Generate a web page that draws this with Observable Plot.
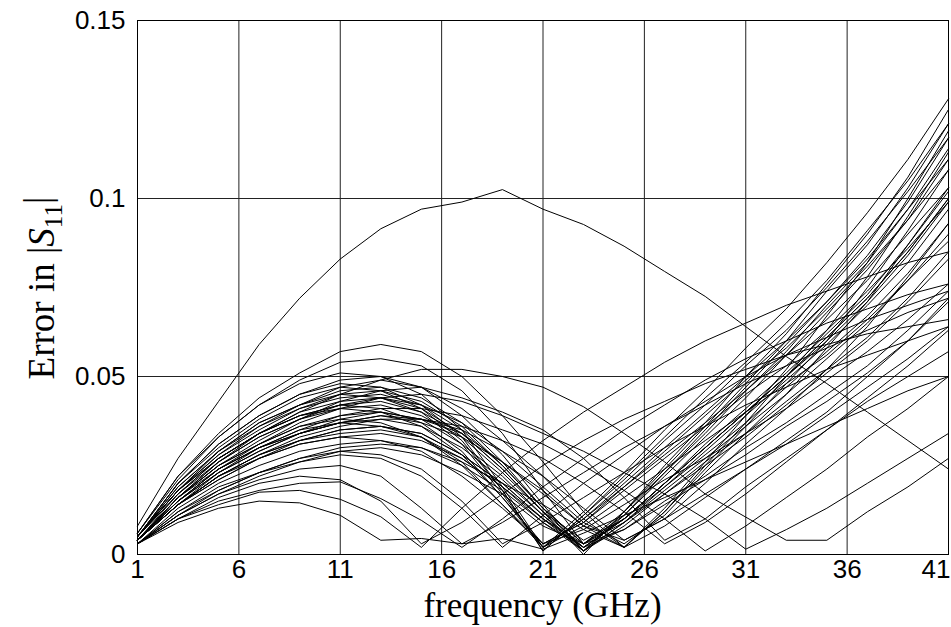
<!DOCTYPE html>
<html><head><meta charset="utf-8">
<script src="https://cdn.jsdelivr.net/npm/d3@7"></script>
<script src="https://cdn.jsdelivr.net/npm/@observablehq/plot@0.6"></script>
<style>html,body{margin:0;padding:0;background:#fff}svg{display:block}</style>
</head><body><div id="chart"></div>
<script>
const freq = [1,3,5,7,9,11,13,15,17,19,21,23,25,27,29,31,33,35,37,39,41];
const xTicks = [1,6,11,16,21,26,31,36];
const xTickLast = [41];
const yTicks = [0,0.05,0.1,0.15];
const yTickLabels = ["0","0.05","0.1","0.15"];

// outlier curve
const cBig = [0.008,0.027,0.043,0.059,0.072,0.083,0.0915,0.097,0.099,0.1025,0.097,0.0927,0.0866,0.0795,0.0725,0.064,0.0556,0.048,0.040,0.032,0.024];
// main bundle: hump near 11-13, dip near 21-25, steep rise
const c01 = [0.006,0.022,0.034,0.044,0.051,0.057,0.059,0.057,0.050,0.039,0.026,0.012,0.002,0.012,0.025,0.037,0.050,0.063,0.078,0.095,0.113];
const c02 = [0.006,0.022,0.033,0.042,0.049,0.054,0.055,0.053,0.046,0.034,0.018,0.003,0.012,0.025,0.037,0.050,0.062,0.076,0.090,0.106,0.125];
const c03 = [0.006,0.021,0.033,0.042,0.048,0.051,0.050,0.045,0.035,0.019,0.002,0.012,0.023,0.035,0.046,0.058,0.069,0.082,0.096,0.111,0.128];
const c04 = [0.005,0.020,0.031,0.039,0.045,0.049,0.050,0.047,0.039,0.028,0.014,0.001,0.012,0.024,0.036,0.048,0.060,0.074,0.087,0.103,0.121];
const c05 = [0.005,0.018,0.028,0.036,0.042,0.047,0.049,0.047,0.041,0.032,0.022,0.010,0.002,0.013,0.026,0.039,0.052,0.067,0.082,0.100,0.119];
const c06 = [0.005,0.020,0.031,0.039,0.045,0.048,0.047,0.042,0.033,0.018,0.001,0.011,0.021,0.032,0.042,0.053,0.063,0.075,0.088,0.102,0.117];
const c07 = [0.005,0.019,0.029,0.037,0.042,0.046,0.047,0.044,0.037,0.026,0.013,0.003,0.011,0.023,0.034,0.046,0.057,0.070,0.082,0.097,0.114];
const c08 = [0.005,0.018,0.029,0.036,0.041,0.045,0.046,0.043,0.036,0.025,0.013,0.001,0.011,0.022,0.033,0.044,0.056,0.068,0.080,0.094,0.111];
const c09 = [0.005,0.019,0.029,0.037,0.042,0.045,0.044,0.040,0.031,0.017,0.002,0.010,0.019,0.029,0.039,0.049,0.058,0.069,0.081,0.094,0.108];
const c10 = [0.004,0.016,0.026,0.033,0.038,0.042,0.044,0.042,0.037,0.029,0.019,0.009,0.003,0.011,0.023,0.034,0.045,0.058,0.071,0.087,0.103];
const c11 = [0.005,0.017,0.027,0.034,0.039,0.042,0.043,0.040,0.034,0.024,0.012,0.002,0.010,0.020,0.031,0.041,0.051,0.062,0.073,0.087,0.102];
const c12 = [0.004,0.017,0.026,0.033,0.038,0.041,0.042,0.039,0.033,0.023,0.012,0.004,0.010,0.020,0.030,0.040,0.050,0.061,0.072,0.085,0.100];
const c13 = [0.005,0.017,0.027,0.034,0.039,0.041,0.040,0.036,0.028,0.016,0.003,0.009,0.018,0.027,0.036,0.045,0.053,0.063,0.074,0.086,0.099];
const c14 = [0.004,0.016,0.025,0.031,0.036,0.039,0.040,0.038,0.031,0.022,0.011,0.002,0.010,0.019,0.029,0.039,0.049,0.059,0.070,0.082,0.097];
const c15 = [0.004,0.014,0.023,0.029,0.034,0.037,0.039,0.037,0.033,0.026,0.017,0.008,0.004,0.010,0.020,0.031,0.041,0.052,0.064,0.078,0.093];
const c16 = [0.004,0.015,0.024,0.030,0.034,0.037,0.038,0.036,0.030,0.021,0.011,0.001,0.009,0.018,0.027,0.036,0.045,0.055,0.065,0.077,0.090];
const c17 = [0.004,0.016,0.024,0.030,0.035,0.037,0.036,0.033,0.025,0.014,0.002,0.008,0.016,0.024,0.032,0.040,0.048,0.056,0.066,0.077,0.088];
const c18 = [0.004,0.014,0.022,0.028,0.032,0.035,0.036,0.034,0.028,0.020,0.010,0.003,0.009,0.017,0.026,0.034,0.043,0.052,0.061,0.072,0.085];
const c19 = [0.004,0.014,0.022,0.027,0.032,0.034,0.035,0.033,0.027,0.019,0.010,0.001,0.008,0.017,0.025,0.033,0.042,0.051,0.060,0.071,0.083];
const c20 = [0.004,0.014,0.021,0.027,0.031,0.033,0.032,0.029,0.022,0.013,0.003,0.007,0.014,0.021,0.027,0.034,0.041,0.049,0.057,0.066,0.076];
const c21 = [0.003,0.013,0.020,0.025,0.029,0.031,0.032,0.030,0.025,0.018,0.009,0.002,0.007,0.015,0.022,0.030,0.037,0.045,0.053,0.063,0.074];
const c22 = [0.003,0.011,0.018,0.023,0.027,0.030,0.031,0.030,0.026,0.020,0.014,0.007,0.002,0.008,0.016,0.024,0.032,0.040,0.050,0.060,0.072];
const c23 = [0.003,0.012,0.019,0.023,0.027,0.029,0.030,0.028,0.023,0.017,0.008,0.003,0.007,0.014,0.021,0.028,0.036,0.043,0.051,0.060,0.071];
const c24 = [0.005,0.020,0.030,0.038,0.044,0.047,0.046,0.041,0.032,0.018,0.001,0.011,0.022,0.033,0.044,0.054,0.065,0.077,0.091,0.105,0.121];
const c25 = [0.005,0.018,0.027,0.034,0.040,0.043,0.044,0.041,0.034,0.024,0.012,0.000,0.012,0.023,0.035,0.047,0.059,0.071,0.084,0.099,0.117];
const c26 = [0.005,0.018,0.027,0.034,0.039,0.042,0.041,0.037,0.029,0.016,0.002,0.010,0.020,0.030,0.040,0.050,0.060,0.071,0.083,0.097,0.111];
const c27 = [0.004,0.015,0.023,0.030,0.034,0.038,0.040,0.038,0.034,0.026,0.018,0.008,0.002,0.012,0.024,0.036,0.048,0.060,0.075,0.091,0.108];
const c28 = [0.004,0.016,0.025,0.031,0.036,0.038,0.037,0.033,0.026,0.014,0.003,0.009,0.019,0.028,0.037,0.046,0.056,0.066,0.077,0.090,0.103];
const c29 = [0.004,0.014,0.022,0.028,0.032,0.035,0.036,0.034,0.028,0.020,0.010,0.002,0.010,0.020,0.030,0.040,0.050,0.060,0.071,0.084,0.099];
const c30 = [0.004,0.014,0.021,0.027,0.031,0.033,0.034,0.032,0.027,0.019,0.009,0.001,0.009,0.019,0.028,0.037,0.047,0.057,0.067,0.079,0.093];
const c31 = [0.005,0.018,0.028,0.035,0.041,0.044,0.045,0.042,0.035,0.025,0.013,0.003,0.010,0.020,0.030,0.040,0.050,0.061,0.072,0.085,0.100];
// low humps, early dips, gentler rise
const c32 = [0.003,0.009,0.013,0.015,0.0145,0.011,0.004,0.0045,0.003,0.0045,0.0015,0.006,0.011,0.016,0.021,0.026,0.031,0.036,0.041,0.046,0.050];
const c33 = [0.003,0.010,0.014,0.0175,0.018,0.0155,0.0106,0.002,0.013,0.023,0.032,0.040,0.047,0.054,0.060,0.065,0.070,0.074,0.078,0.082,0.085];
const c34 = [0.003,0.010,0.015,0.018,0.020,0.0204,0.0157,0.0096,0.002,0.010,0.019,0.027,0.035,0.042,0.049,0.055,0.060,0.065,0.069,0.073,0.076];
const c35 = [0.003,0.011,0.017,0.021,0.024,0.025,0.022,0.013,0.003,0.009,0.016,0.023,0.030,0.036,0.042,0.048,0.053,0.058,0.063,0.068,0.072];
const c36 = [0.003,0.012,0.018,0.023,0.026,0.028,0.027,0.022,0.013,0.002,0.011,0.020,0.028,0.036,0.043,0.050,0.056,0.061,0.066,0.070,0.074];
const c37 = [0.003,0.011,0.017,0.022,0.026,0.029,0.028,0.024,0.015,0.003,0.009,0.016,0.023,0.030,0.036,0.042,0.047,0.052,0.056,0.060,0.064];
const c38 = [0.003,0.010,0.016,0.020,0.022,0.021,0.015,0.003,0.009,0.017,0.025,0.032,0.038,0.043,0.048,0.052,0.056,0.059,0.062,0.064,0.066];
// high humps, late dips
const c39 = [0.004,0.016,0.026,0.034,0.040,0.045,0.049,0.052,0.052,0.050,0.047,0.0415,0.034,0.026,0.017,0.0105,0.004,0.004,0.012,0.019,0.027];
const c40 = [0.004,0.015,0.024,0.031,0.037,0.041,0.044,0.045,0.043,0.039,0.034,0.029,0.023,0.017,0.010,0.0015,0.007,0.013,0.020,0.027,0.034];
const c41 = [0.004,0.016,0.025,0.032,0.038,0.043,0.046,0.047,0.044,0.040,0.035,0.027,0.016,0.004,0.010,0.019,0.027,0.035,0.043,0.050,0.057];
const c42 = [0.004,0.015,0.024,0.030,0.035,0.039,0.041,0.041,0.039,0.035,0.031,0.025,0.018,0.010,0.001,0.008,0.016,0.024,0.033,0.041,0.050];
const c43 = [0.004,0.014,0.022,0.028,0.033,0.036,0.038,0.038,0.036,0.032,0.027,0.020,0.012,0.003,0.009,0.017,0.026,0.035,0.044,0.053,0.063];
const c44 = [0.004,0.015,0.023,0.029,0.034,0.037,0.039,0.038,0.035,0.029,0.022,0.013,0.004,0.010,0.017,0.024,0.031,0.039,0.047,0.055,0.064];

const curves = [cBig,c01,c02,c03,c04,c05,c06,c07,c08,c09,c10,c11,c12,c13,c14,c15,c16,c17,c18,c19,c20,c21,c22,c23,c24,c25,c26,c27,c28,c29,c30,c31,c32,c33,c34,c35,c36,c37,c38,c39,c40,c41,c42,c43,c44];
const rows = curves.flatMap((c, i) => c.map((v, j) => ({id: i, f: freq[j], v})));
const allX = xTicks.concat(xTickLast);

const chart = Plot.plot({
  width: 951, height: 627,
  marginLeft: 137, marginRight: 3, marginTop: 20, marginBottom: 73,
  style: {fontFamily: "'Liberation Sans', Arial, sans-serif", fontSize: "26px", color: "black", background: "white", overflow: "visible"},
  x: {domain: [1, 41], label: null},
  y: {domain: [0, 0.15], label: null},
  marks: [
    Plot.gridX(allX, {stroke: "#222", strokeOpacity: 1, strokeWidth: 1}),
    Plot.gridY(yTicks, {stroke: "#222", strokeOpacity: 1, strokeWidth: 1}),
    Plot.line(rows, {x: "f", y: "v", z: "id", stroke: "black", strokeWidth: 1, curve: "linear"}),
    Plot.frame({stroke: "black", strokeWidth: 1}),
    Plot.axisX(xTicks, {tickSize: 0, tickPadding: 5, tickFormat: d => String(d), label: null, fontSize: 26}),
    Plot.axisX(xTickLast, {tickSize: 0, tickPadding: 5, tickFormat: d => String(d), textAnchor: "end", dx: 2, label: null, fontSize: 26}),
    Plot.axisY(yTicks, {tickSize: 0, tickPadding: 12, tickFormat: d => yTickLabels[yTicks.indexOf(d)], label: null, fontSize: 26})
  ]
});
document.getElementById("chart").appendChild(chart);

const svg = d3.select(chart);
const serif = "'Liberation Serif', 'Times New Roman', serif";
svg.append("text")
  .attr("x", 542.5).attr("y", 617)
  .attr("text-anchor", "middle")
  .attr("font-family", serif).attr("font-size", 35).attr("fill", "black")
  .text("frequency (GHz)");
const yt = svg.append("text")
  .attr("transform", "translate(54,288) rotate(-90)")
  .attr("text-anchor", "middle")
  .attr("font-family", serif).attr("font-size", 37).attr("fill", "black");
yt.append("tspan").text("Error in |");
yt.append("tspan").attr("font-style", "italic").text("S");
yt.append("tspan").attr("font-size", 25).attr("dy", "0.3em").text("11");
yt.append("tspan").attr("dy", "-0.3em").text("|");
</script>
</body></html>
